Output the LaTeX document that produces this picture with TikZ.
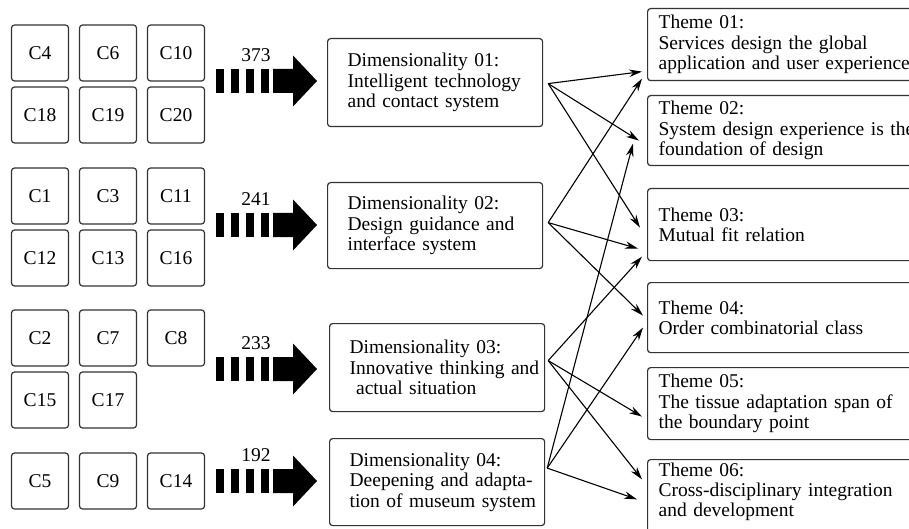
\documentclass[tikz,border=0pt]{standalone}
\usepackage{fontspec}
\setmainfont{Liberation Serif}
\usepackage{tikz}
\usetikzlibrary{arrows.meta,positioning}

\begin{document}
\begin{tikzpicture}[
  x=1pt, y=-1pt,
  every node/.style={font=\fontsize{19.5}{20.3}\selectfont},
  cbox/.style={rectangle, draw=black!80, line width=1.2pt, rounded corners=3pt,
               minimum width=57pt, minimum height=56pt, inner sep=0pt},
  dimbox/.style={rectangle, draw=black!80, line width=1.2pt, rounded corners=3pt,
                 anchor=north west, minimum width=215pt, inner xsep=2.5pt,
                 text width=210pt, align=left,
                 execute at begin node={\leftskip=17.5pt}},
  thmbox/.style={rectangle, draw=black!80, line width=1.2pt, rounded corners=3pt,
                 anchor=north west, inner xsep=11pt, text width=260pt, align=left},
  numlbl/.style={inner sep=0pt},
  conn/.style={-{Stealth[length=13pt,width=7.5pt]}, line width=1.1pt, draw=black}
]
\useasboundingbox (0,0) rectangle (909,529);
\clip (0,0) rectangle (909,529);
%% ── Category boxes (four groups, left) ──────────────────────────────────
\foreach \lab/\x/\y in {4/40/53, 6/108/53, 10/176/53, 18/40/115, 19/108/115, 20/176/115,
                        1/40/196, 3/108/196, 11/176/196, 12/40/258, 13/108/258, 16/176/258,
                        2/40/338, 7/108/338, 8/176/338, 15/40/400, 17/108/400,
                        5/40/481, 9/108/481, 14/176/481}
  \node[cbox] (c\lab) at (\x,\y) {C\lab};
%% ── Block arrows with counts ────────────────────────────────────────────
\foreach \y/\num/\k in {81/373/1, 225/241/2, 369/233/3, 481/192/4} {
  \foreach \bx in {216,231,246,261}
    \fill (\bx,\y-12) rectangle ++(8,24);
  \fill (273,\y-12) -- (293,\y-12) -- (293,\y-25.5) -- (317,\y)
        -- (293,\y+25.5) -- (293,\y+12) -- (273,\y+12) -- cycle;
  \node[numlbl] (n\k) at (256,\y-26) {\num};
}
%% ── Dimensionality boxes (middle column) ────────────────────────────────
\node[dimbox, minimum height=88pt] (d1) at (327,38)
  {Dimensionality 01:\\Intelligent technology\\and contact system};
\node[dimbox, minimum height=86pt] (d2) at (327,182)
  {Dimensionality 02:\\Design guidance and\\interface system};
\node[dimbox, minimum height=88pt] (d3) at (329,323)
  {Dimensionality 03:\\Innovative thinking and\\\ actual situation};
\node[dimbox, minimum height=87pt] (d4) at (329,438)
  {Dimensionality 04:\\Deepening and adapta-\\tion of museum system};
%% ── Theme boxes (right column, cut by the page edge) ────────────────────
\node[thmbox, minimum height=72pt] (t1) at (647,8)
  {Theme 01:\\Services design the global\\application and user experience};
\node[thmbox, minimum height=70pt] (t2) at (647,95)
  {Theme 02:\\System design experience is the\\foundation of design};
\node[thmbox, minimum height=72pt] (t3) at (647,188)
  {Theme 03:\\Mutual fit relation};
\node[thmbox, minimum height=70pt] (t4) at (647,282)
  {Theme 04:\\Order combinatorial class};
\node[thmbox, minimum height=72pt] (t5) at (647,367)
  {Theme 05:\\The tissue adaptation span of\\the boundary point};
\node[thmbox, inner ysep=3pt, text depth=80pt] (t6) at (647,459)
  {Theme 06:\\Cross-disciplinary integration\\and development};
%% ── Start points of the connectors ──────────────────────────────────────
\coordinate (s1) at ([xshift=5pt,yshift=-1pt]d1.east);
\coordinate (s2) at ([xshift=5pt,yshift=3pt]d2.east);
\coordinate (s3) at ([xshift=3pt,yshift=7pt]d3.east);
\coordinate (s4) at ([xshift=2pt,yshift=14pt]d4.east);
%% ── Connectors: dimensionality → theme ──────────────────────────────────
\foreach \s/\t/\dx/\dy in {1/1/-5/-27, 2/1/-5/-34, 1/2/-8/-10, 4/2/-14/-13,
                           1/3/-7/-3, 2/3/-9/-24, 3/3/-5/-32,
                           2/4/-4/2, 4/4/-4/-10, 3/5/-5/-13,
                           3/6/-5/30, 4/6/-10/10}
  \draw[conn] (s\s) -- ([xshift=\dx pt,yshift=\dy pt]t\t.west);
\end{tikzpicture}
\end{document}
